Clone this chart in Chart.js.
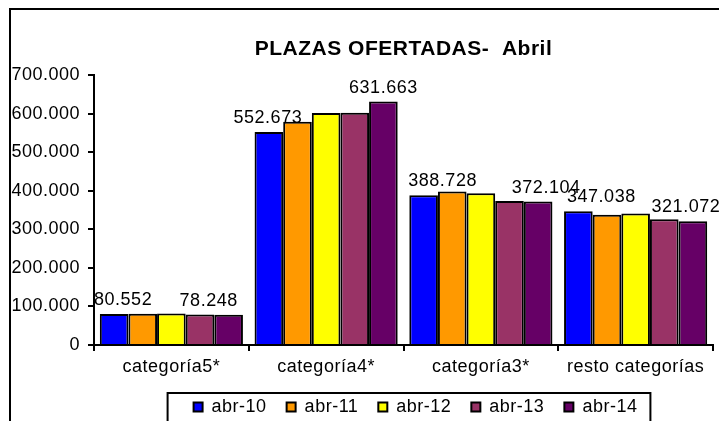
<!DOCTYPE html>
<html>
<head>
<meta charset="utf-8">
<script src="https://cdn.jsdelivr.net/npm/chart.js@4.4.1/dist/chart.umd.min.js"></script>
<style>
  html, body { margin: 0; padding: 0; background: #fff; }
  canvas { display: block; }
</style>
</head>
<body>
<canvas id="chartPlazas" width="719" height="421"></canvas>
<script>
// Datos: plazas ofertadas en abril por categoría
const categorias = ['categoría5*', 'categoría4*', 'categoría3*', 'resto categorías'];
const series = ['abr-10', 'abr-11', 'abr-12', 'abr-13', 'abr-14'];
const abr10 = [80552, 552673, 388728, 347038];
const abr11 = [81000, 579000, 398000, 338000];
const abr12 = [82000, 602000, 394000, 341000];
const abr13 = [78900, 602500, 373500, 326000];
const abr14 = [78248, 631663, 372104, 321072];
const yTicks = [0, 100000, 200000, 300000, 400000, 500000, 600000, 700000];

const colores = ['#0000FF', '#FF9900', '#FFFF00', '#993366', '#660066'];
const FONT = "'Liberation Sans', Arial, sans-serif";
const ESPACIADO = '0.5px';

// Desplazamiento horizontal de las etiquetas (movidas a mano en el original)
const etiquetasSeries = [0, 4];
const desplazamientoEtiquetas = [[9, -1, 19, 23], [-20, 0, 8, -7]];

// Formato con punto como separador de miles
function fmt(v) {
    return String(Math.round(v)).replace(/\B(?=(\d{3})+(?!\d))/g, '.');
}

// Espaciado de letras como en el original (antes de medir y de dibujar)
const espaciadoPlugin = {
    id: 'espaciado',
    beforeLayout(chart) { chart.ctx.letterSpacing = ESPACIADO; },
    beforeDraw(chart) { chart.ctx.letterSpacing = ESPACIADO; },
    afterLayout(chart) {
        // La leyenda del original está algo desplazada a la derecha
        const lg = chart.legend;
        if (lg) { lg.left += 12; lg.right += 12; }
    }
};

// Marco superior e izquierdo
const marcoPlugin = {
    id: 'marco',
    afterDraw(chart) {
        const ctx = chart.ctx;
        ctx.save();
        ctx.strokeStyle = '#000';
        ctx.lineWidth = 2;
        ctx.beginPath();
        ctx.moveTo(10, 421);
        ctx.lineTo(10, 9);
        ctx.lineTo(719, 9);
        ctx.stroke();
        ctx.restore();
    }
};

// Etiquetas de valor para abr-10 y abr-14
const etiquetasPlugin = {
    id: 'etiquetas',
    afterDatasetsDraw(chart) {
        const ctx = chart.ctx;
        ctx.save();
        ctx.font = '18px ' + FONT;
        ctx.fillStyle = '#000';
        ctx.textAlign = 'center';
        ctx.textBaseline = 'alphabetic';
        etiquetasSeries.forEach((di, k) => {
            const meta = chart.getDatasetMeta(di);
            meta.data.forEach((bar, i) => {
                const v = chart.data.datasets[di].data[i];
                ctx.fillText(fmt(v), bar.x + desplazamientoEtiquetas[k][i], bar.y - 9);
            });
        });
        ctx.restore();
    }
};

// Recuadro de la leyenda
const cajaLeyendaPlugin = {
    id: 'cajaLeyenda',
    afterDraw(chart) {
        const lg = chart.legend;
        if (!lg || !lg.legendHitBoxes.length) return;
        const hb = lg.legendHitBoxes;
        const first = hb[0], last = hb[hb.length - 1];
        const x0 = first.left - 26;
        const x1 = last.left + last.width + 13;
        const ctx = chart.ctx;
        ctx.save();
        ctx.strokeStyle = '#000';
        ctx.lineWidth = 2;
        ctx.strokeRect(x0, 393, x1 - x0, 60);
        ctx.restore();
    }
};

const datos = [abr10, abr11, abr12, abr13, abr14];

new Chart(document.getElementById('chartPlazas'), {
    type: 'bar',
    data: {
        labels: categorias,
        datasets: series.map((s, i) => ({
            label: s,
            data: datos[i],
            backgroundColor: colores[i],
            borderColor: '#000',
            borderWidth: 2,
            barPercentage: 1,
            categoryPercentage: 0.925
        }))
    },
    options: {
        responsive: false,
        animation: false,
        layout: { padding: { top: 25, right: 6, bottom: 0, left: 0 } },
        plugins: {
            title: {
                display: true,
                fullSize: false,
                text: 'PLAZAS OFERTADAS-  Abril',
                color: '#000',
                font: { family: FONT, size: 21, weight: 'bold' },
                padding: { top: 12, bottom: 13 }
            },
            legend: {
                position: 'bottom',
                fullSize: false,
                maxHeight: 43,
                labels: {
                    color: '#000',
                    font: { family: FONT, size: 18 },
                    boxWidth: 9,
                    boxHeight: 9,
                    padding: 20,
                    generateLabels(chart) {
                        return chart.data.datasets.map((ds, i) => ({
                            text: ds.label,
                            fillStyle: ds.backgroundColor,
                            strokeStyle: '#000',
                            lineWidth: 2,
                            datasetIndex: i,
                            fontColor: '#000'
                        }));
                    }
                }
            },
            tooltip: { enabled: false }
        },
        scales: {
            x: {
                afterFit(scale) { scale.height = 33; },
                grid: {
                    offset: true,
                    drawOnChartArea: false,
                    color: '#000',
                    lineWidth: 2,
                    tickLength: 6
                },
                border: { color: '#000', width: 2 },
                ticks: {
                    color: '#000',
                    font: { family: FONT, size: 18 },
                    padding: 5,
                    maxRotation: 0
                }
            },
            y: {
                min: 0,
                max: 700000,
                afterFit(scale) { scale.width = 94; },
                afterBuildTicks(scale) {
                    scale.ticks = yTicks.map(v => ({ value: v }));
                },
                grid: {
                    drawOnChartArea: false,
                    color: '#000',
                    lineWidth: 2,
                    tickLength: 6
                },
                border: { color: '#000', width: 2 },
                ticks: {
                    color: '#000',
                    font: { family: FONT, size: 18 },
                    padding: 8,
                    callback: v => fmt(v)
                }
            }
        }
    },
    plugins: [espaciadoPlugin, marcoPlugin, etiquetasPlugin, cajaLeyendaPlugin]
});
</script>
</body>
</html>
